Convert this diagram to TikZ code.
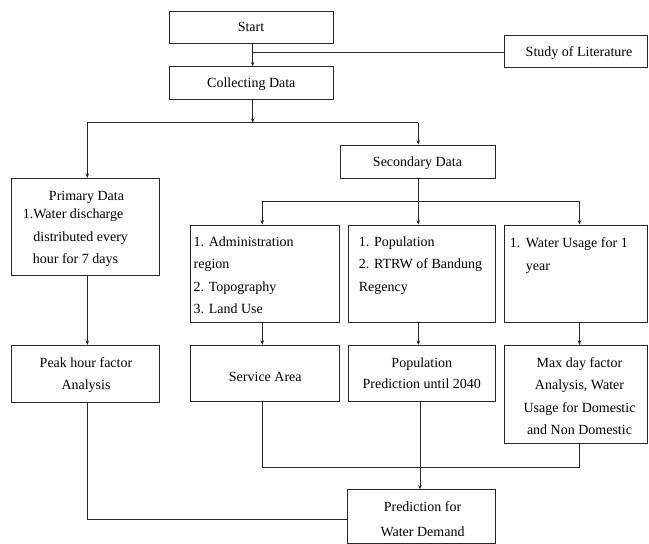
\documentclass[tikz,border=0pt]{standalone}
\usepackage{fontspec}
\setmainfont{Liberation Serif}
\usetikzlibrary{arrows.meta}
\begin{document}
\begin{tikzpicture}[x=1pt,y=-1pt,
  box/.style={draw=black!85, line width=0.8pt, rectangle, inner sep=0pt},
  lbl/.style={inner sep=0pt, anchor=base, font=\fontsize{14}{16}\selectfont},
  lbll/.style={lbl, anchor=base west},
  ln/.style={draw=black!85, line width=0.8pt},
  arr/.style={ln, -{Stealth[length=4.5pt,width=3.6pt]}}]
\useasboundingbox (0,0) rectangle (649,544);

% boxes
\node[box, minimum width=164pt,   minimum height=31.6pt] (start) at (251,27.5) {};
\node[box, minimum width=143.5pt, minimum height=32pt]   (lit)   at (575.75,51.7) {};
\node[box, minimum width=164pt,   minimum height=32.6pt] (coll)  at (251,83) {};
\node[box, minimum width=155.7pt, minimum height=33.3pt] (sec)   at (417.85,161.65) {};
\node[box, minimum width=147.6pt, minimum height=96.7pt] (prim)  at (85.5,226.65) {};
\node[box, minimum width=148.6pt, minimum height=97.5pt] (admin) at (265,273.75) {};
\node[box, minimum width=147.7pt, minimum height=97.5pt] (pop)   at (421.85,273.75) {};
\node[box, minimum width=142.8pt, minimum height=97.5pt] (wat)   at (576.1,273.75) {};
\node[box, minimum width=147.6pt, minimum height=56.7pt] (peak)  at (85.5,373.65) {};
\node[box, minimum width=148.6pt, minimum height=56.2pt] (serv)  at (265,373.4) {};
\node[box, minimum width=147.7pt, minimum height=56.2pt] (popp)  at (421.85,373.4) {};
\node[box, minimum width=142.8pt, minimum height=97.7pt] (maxd)  at (576.1,394.15) {};
\node[box, minimum width=148pt,   minimum height=53.8pt] (pred)  at (421.7,516.6) {};

% texts
\node[lbl] (tstart) at (251,31.8) {Start};
\node[lbl] (tlit) at (579,56.2) {Study of Literature};
\node[lbl] (tcoll) at (251.3,87.8) {Collecting Data};
\node[lbl] (tsec) at (417.5,166.2) {Secondary Data};
\node[lbl] (tprim1) at (86.5,200.2) {Primary Data};
\node[lbll] (tprim2) at (22.7,218.5) {1.Water discharge};
\node[lbll] (tprim3) at (33.3,241.5) {distributed every};
\node[lbll] (tprim4) at (32.7,263.5) {hour for 7 days};
\node[lbll] (tad1) at (193.5,246.2) {1. Administration};
\node[lbll] (tad2) at (193.5,268.5) {region};
\node[lbll] (tad3) at (193.5,291.2) {2. Topography};
\node[lbll] (tad4) at (193.5,313.5) {3. Land Use};
\node[lbll] (tpop1) at (358.7,246.2) {1. Population};
\node[lbll] (tpop2) at (358.7,268.5) {2. RTRW of Bandung};
\node[lbll] (tpop3) at (358.7,291.2) {Regency};
\node[lbll] (twat0) at (509.7,247.5) {1.};
\node[lbll] (twat1) at (525.7,247.5) {Water Usage for 1};
\node[lbll] (twat2) at (525.7,270.2) {year};
\node[lbl] (tpeak1) at (86,367.2) {Peak hour factor};
\node[lbl] (tpeak2) at (86,389.2) {Analysis};
\node[lbl] (tserv) at (265.3,381.5) {Service Area};
\node[lbl] (tpopp1) at (421.8,367.2) {Population};
\node[lbl] (tpopp2) at (421.8,388.8) {Prediction until 2040};
\node[lbl] (tmax1) at (579.5,367.2) {Max day factor};
\node[lbl] (tmax2) at (579.5,389.2) {Analysis, Water};
\node[lbl] (tmax3) at (579.5,412.5) {Usage for Domestic};
\node[lbl] (tmax4) at (579.5,434.8) {and Non Domestic};
\node[lbl] (tpred1) at (422.5,511.5) {Prediction for};
\node[lbl] (tpred2) at (422.5,536.5) {Water Demand};

% connector x positions and junctions
\coordinate (xa) at (252.7,0);
\coordinate (xl) at (87.3,0);
\coordinate (xs) at (418.3,0);
\coordinate (xad) at (262.3,0);
\coordinate (xw) at (579.5,0);
\coordinate (xpp) at (420,0);
\coordinate (jl) at (252.7,52.7);
\coordinate (j1) at (252.7,122.7);
\coordinate (j2) at (418.3,201.7);
\coordinate (j3) at (0,467);
\coordinate (j4) at (0,519.3);

\draw[arr] (start.south -| xa) -- (coll.north -| xa);
\draw[ln] (jl) -- (jl -| lit.west);
\draw[arr] (coll.south -| xa) -- (j1);
\draw[ln] (j1 -| xl) -- (j1 -| xs);
\draw[arr] (j1 -| xl) -- (prim.north -| xl);
\draw[arr] (j1 -| xs) -- (sec.north -| xs);
\draw[arr] (sec.south -| xs) -- (pop.north -| xs);
\draw[ln] (j2 -| xad) -- (j2 -| xw);
\draw[arr] (j2 -| xad) -- (admin.north -| xad);
\draw[arr] (j2 -| xw) -- (wat.north -| xw);
\draw[arr] (prim.south -| xl) -- (peak.north -| xl);
\draw[arr] (admin.south -| xad) -- (serv.north -| xad);
\draw[arr] (pop.south -| xs) -- (popp.north -| xs);
\draw[arr] (wat.south -| xw) -- (maxd.north -| xw);
\draw[ln] (serv.south -| xad) -- (j3 -| xad) -- (j3 -| xw) -- (maxd.south -| xw);
\draw[arr] (popp.south -| xpp) -- (pred.north -| xpp);
\draw[ln] (peak.south -| xl) -- (j4 -| xl) -- (j4 -| pred.west);
\end{tikzpicture}
\end{document}
